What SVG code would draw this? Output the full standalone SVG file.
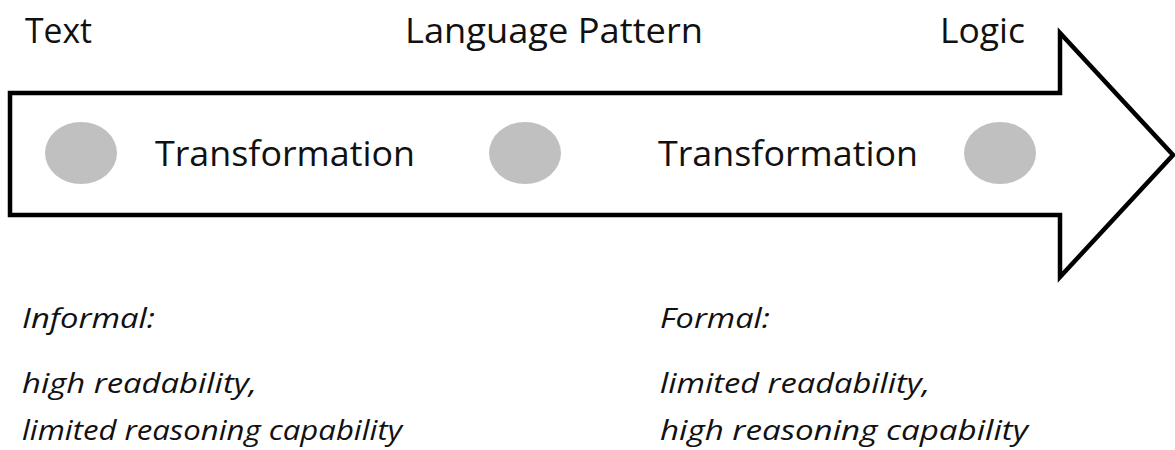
<svg xmlns="http://www.w3.org/2000/svg" width="1175" height="450" viewBox="0 0 1175 450">
  <style>
    .lbl { font-family: "Open Sans", "Liberation Sans", sans-serif; font-size: 35px; fill: #111; }
    .note { font-family: "Open Sans", "Liberation Sans", sans-serif; font-size: 27px; font-style: italic; fill: #111; }
    .dot { fill: #c0c0c0; }
  </style>
  <rect width="1175" height="450" fill="#ffffff"/>

  <!-- big arrow -->
  <g id="arrow">
    <path d="M10,93 H1060 V33 L1173,155 L1060,277 V215 H10 Z" fill="#ffffff" stroke="#000" stroke-width="4.5" stroke-linejoin="miter"/>
  </g>

  <!-- stage labels above the arrow -->
  <g id="stage-text"><text class="lbl" x="25" y="43" textLength="67" lengthAdjust="spacingAndGlyphs">Text</text></g>
  <g id="stage-pattern"><text class="lbl" x="405" y="43" textLength="298" lengthAdjust="spacingAndGlyphs">Language Pattern</text></g>
  <g id="stage-logic"><text class="lbl" x="940" y="43" textLength="85" lengthAdjust="spacingAndGlyphs">Logic</text></g>

  <!-- stage points on the arrow -->
  <g id="point-1"><ellipse class="dot" cx="81" cy="153" rx="36" ry="31"/></g>
  <g id="point-2"><ellipse class="dot" cx="525" cy="153" rx="36" ry="31"/></g>
  <g id="point-3"><ellipse class="dot" cx="1000" cy="153" rx="36" ry="31"/></g>

  <g id="transformation-1"><text class="lbl" x="155" y="166" textLength="260" lengthAdjust="spacingAndGlyphs">Transformation</text></g>
  <g id="transformation-2"><text class="lbl" x="658" y="166" textLength="260" lengthAdjust="spacingAndGlyphs">Transformation</text></g>

  <!-- notes below -->
  <g id="note-informal">
    <text class="note" x="22" y="328" textLength="133" lengthAdjust="spacingAndGlyphs">Informal:</text>
    <text class="note" x="22" y="393" textLength="235" lengthAdjust="spacingAndGlyphs">high readability,</text>
    <text class="note" x="22" y="440" textLength="380" lengthAdjust="spacingAndGlyphs">limited reasoning capability</text>
  </g>
  <g id="note-formal">
    <text class="note" x="660" y="328" textLength="110" lengthAdjust="spacingAndGlyphs">Formal:</text>
    <text class="note" x="660" y="393" textLength="270" lengthAdjust="spacingAndGlyphs">limited readability,</text>
    <text class="note" x="660" y="440" textLength="368" lengthAdjust="spacingAndGlyphs">high reasoning capability</text>
  </g>
</svg>
